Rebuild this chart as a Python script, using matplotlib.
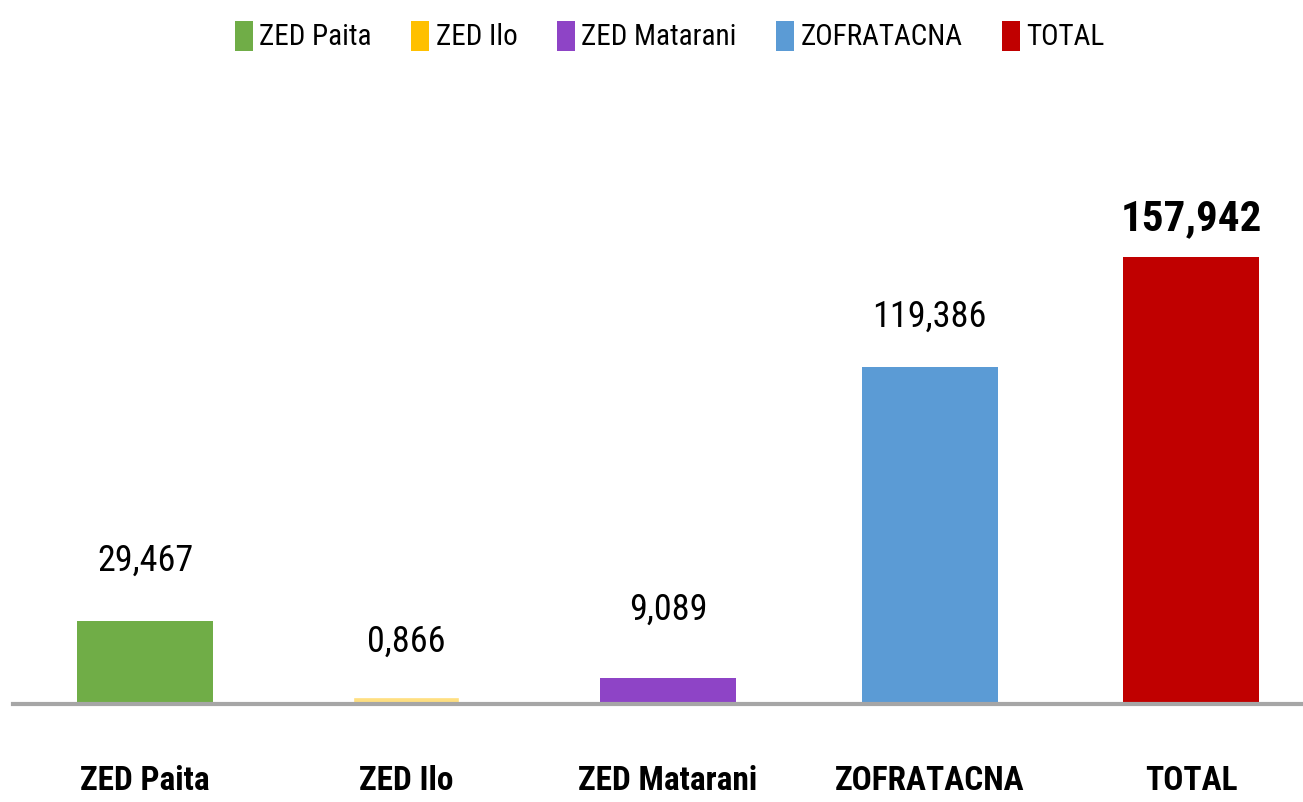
import matplotlib
matplotlib.use("Agg")
import matplotlib.pyplot as plt
from matplotlib.patches import Patch

# --- Data ---
categories = ["ZED Paita", "ZED Ilo", "ZED Matarani", "ZOFRATACNA", "TOTAL"]
values = [29.467, 0.866, 9.089, 119.386, 157.942]
value_labels = ["29,467", "0,866", "9,089", "119,386", "157,942"]

# --- Style ---
colors = ["#70AD47", "#FFC000", "#8E44C6", "#5B9BD5", "#C00000"]
bar_colors = ["#70AD47", "#FFDF80", "#8E44C6", "#5B9BD5", "#C00000"]
bar_widths = [0.52, 0.37, 0.52, 0.52, 0.52]
label_offsets_px = [50, 50, 59, 40, 27]  # gap from bar top to value label baseline
plt.rcParams["font.family"] = ["Roboto Condensed", "Liberation Sans Narrow", "Liberation Sans", "DejaVu Sans"]

fig = plt.figure(figsize=(13.03, 8.02), dpi=100)
ax = fig.add_axes([0.01, 0.122, 0.99, 0.67])

x = range(len(categories))
bars = ax.bar(x, values, width=bar_widths, color=bar_colors, zorder=2)
# the Ilo bar is so small it only shows as a thin strip
bars[1].set_edgecolor(bar_colors[1])
bars[1].set_linewidth(5.5)

for i, (b, lab, off) in enumerate(zip(bars, value_labels, label_offsets_px)):
    bold = categories[i] == "TOTAL"
    ax.annotate(lab, (b.get_x() + b.get_width() / 2, b.get_height()),
                xytext=(0, off), textcoords="offset pixels",
                ha="center", va="baseline",
                fontsize=31 if bold else 26,
                fontweight="bold" if bold else "normal", color="#000000")

ax.set_xlim(-0.505, 4.428)
ax.set_ylim(0, 190)
ax.set_xticks(list(x))
ax.set_xticklabels(categories, fontsize=24, fontweight="bold")
ax.tick_params(axis="x", length=0, pad=44)
ax.set_yticks([])

for s in ["top", "right", "left"]:
    ax.spines[s].set_visible(False)
ax.spines["bottom"].set_color("#A6A6A6")
ax.spines["bottom"].set_linewidth(3)
ax.spines["bottom"].set_zorder(3)

handles = [Patch(facecolor=c, edgecolor="none") for c in colors]
fig.legend(handles, categories, loc="center", bbox_to_anchor=(0.514, 0.955),
           ncol=5, frameon=False, fontsize=21, handlelength=0.62,
           handleheight=1.2, handletextpad=0.22, columnspacing=1.35)

fig.savefig("out.png", dpi=100)
